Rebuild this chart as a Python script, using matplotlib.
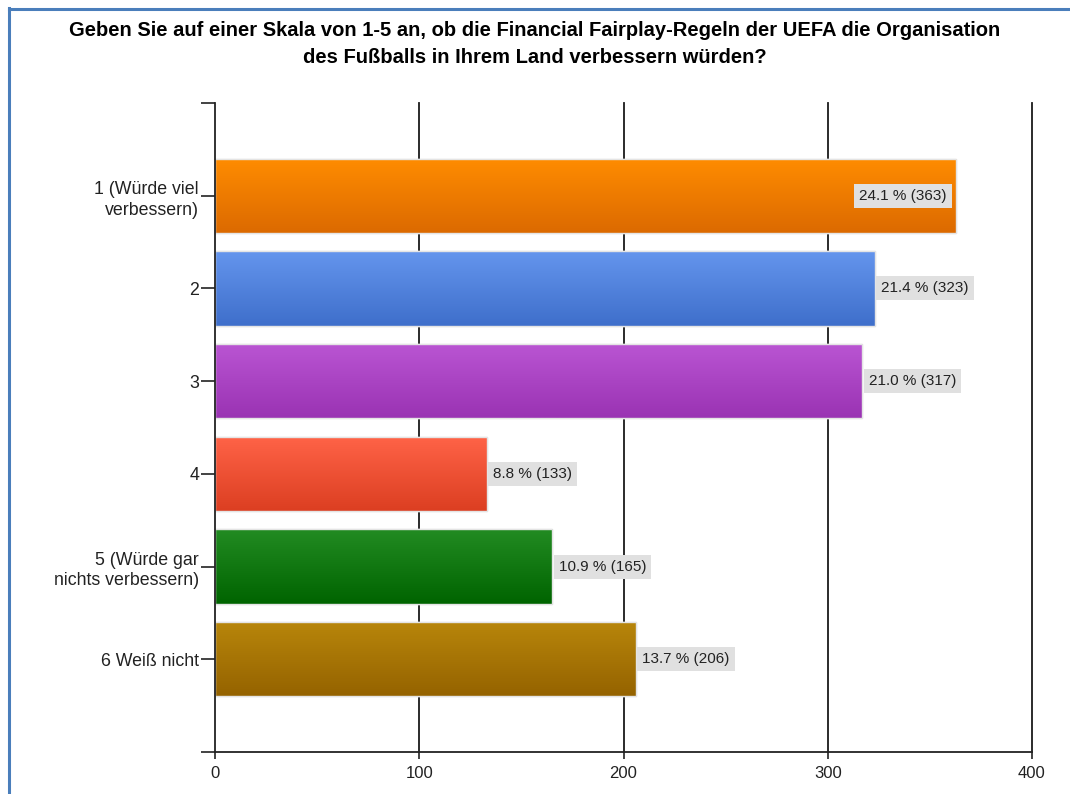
import numpy as np
import matplotlib
matplotlib.use("Agg")
import matplotlib.pyplot as plt
from matplotlib.colors import LinearSegmentedColormap
from matplotlib.patches import Rectangle

plt.rcParams['font.family'] = ['Liberation Sans', 'DejaVu Sans']

title = ("Geben Sie auf einer Skala von 1-5 an, ob die Financial Fairplay-Regeln der UEFA die Organisation\n"
         "des Fußballs in Ihrem Land verbessern würden?")
categories = ["1 (Würde viel\nverbessern)", "2", "3", "4",
              "5 (Würde gar\nnichts verbessern)", "6 Weiß nicht"]
counts = [363, 323, 317, 133, 165, 206]
percents = [24.1, 21.4, 21.0, 8.8, 10.9, 13.7]
top_colors = ["#ff8c00", "#6495ed", "#ba55d3", "#ff6347", "#228b22", "#b8860b"]
bottom_colors = ["#dc6a00", "#3f6fcb", "#9a33b3", "#dc3f22", "#006400", "#956300"]
xticks = [0, 100, 200, 300, 400]

W, H = 1070, 794
fig = plt.figure(figsize=(W / 100, H / 100), dpi=100)
fig.patch.set_facecolor("white")

# blue frame
fig.add_artist(plt.Line2D([9 / W, 9 / W], [0, 1 - 8 / H], transform=fig.transFigure,
                          color="#4a7ebb", lw=2.2))
fig.add_artist(plt.Line2D([9 / W, 1], [1 - 9 / H, 1 - 9 / H], transform=fig.transFigure,
                          color="#4a7ebb", lw=2.2))

ax = fig.add_axes([215 / W, 1 - 752 / H, 817 / W, 649 / H])

ypos = np.arange(1, len(categories) + 1)
bars = ax.barh(ypos, counts, height=0.8, color=bottom_colors,
               edgecolor="#e8e8e8", linewidth=1.0, zorder=3)

grad = np.linspace(0, 1, 64).reshape(-1, 1)
for bar, c1, c2 in zip(bars, top_colors, bottom_colors):
    cmap = LinearSegmentedColormap.from_list("g", [c1, c2])
    x0, y0 = bar.get_x(), bar.get_y()
    w, h = bar.get_width(), bar.get_height()
    im = ax.imshow(grad, cmap=cmap, aspect="auto", origin="lower",
                   extent=(x0, x0 + w, y0, y0 + h), zorder=3.5)
    im.set_clip_path(bar)
    ax.add_patch(Rectangle((x0, y0), w, h, fill=False, edgecolor="#e4e4e4",
                           linewidth=1.0, zorder=4))

ax.set_xlim(0, 400)
ax.set_ylim(len(categories) + 1, 0)

# gridlines
for xv in xticks[1:]:
    ax.axvline(xv, color="#1a1a1a", lw=1.3, zorder=1, clip_on=False)

# value labels
for yv, c, p in zip(ypos, counts, percents):
    txt = f"{p:.1f} % ({c})"
    inside = c + 50 > 400
    ax.annotate(txt, xy=(c, yv), xytext=(-6.9 if inside else 4.75, 0),
                textcoords="offset points", ha="right" if inside else "left",
                va="center", fontsize=11, color="#222222", zorder=6,
                bbox=dict(boxstyle="square,pad=0.33", fc="#e0e0e0", ec="none"))

ax.set_yticks(np.arange(0, len(categories) + 2))
ax.set_yticklabels([""] + categories + [""], fontsize=12.8, color="#222222",
                   linespacing=1.3)
ax.set_xticks(xticks)
ax.set_xticklabels([str(x) for x in xticks], fontsize=12, color="#222222")
ax.tick_params(axis="y", length=10, width=1.2, color="#222222", pad=1.5)
ax.tick_params(axis="x", length=5, width=1.2, color="#222222", pad=5)

for s in ["top", "right"]:
    ax.spines[s].set_visible(False)
for s in ["left", "bottom"]:
    ax.spines[s].set_color("#222222")
    ax.spines[s].set_linewidth(1.3)
    ax.spines[s].set_zorder(5)

fig.text(0.5, 1 - 44 / H, title, ha="center", va="center", fontsize=14.5,
         fontweight="bold", color="black", linespacing=1.5)

fig.savefig("out.png", dpi=100, facecolor="white")
